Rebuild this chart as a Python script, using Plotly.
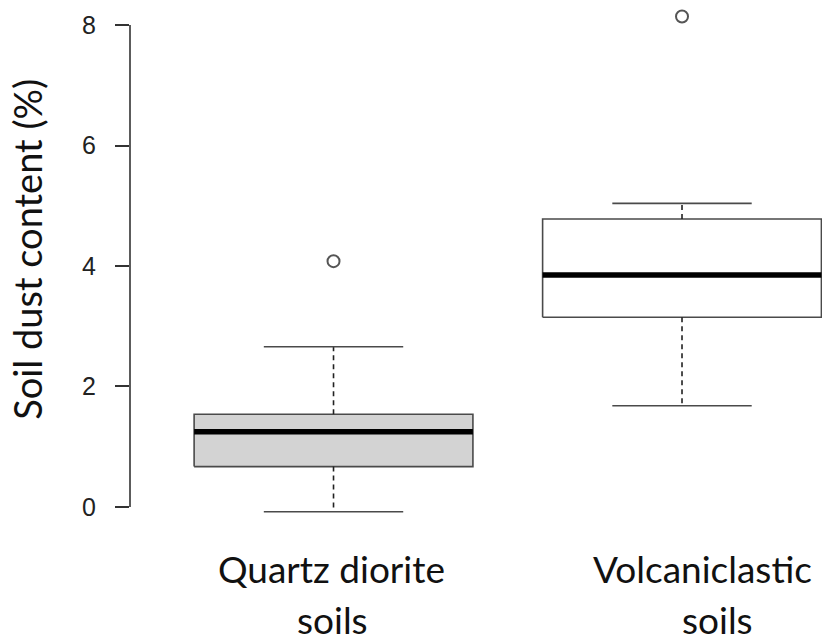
import plotly.graph_objects as go

# ---- data ----
categories = ["Quartz diorite soils", "Volcaniclastic soils"]
label_lines = [["Quartz diorite", "soils"], ["Volcaniclastic", "soils"]]
positions = [1, 2]
q1 = [0.67, 3.15]
median = [1.25, 3.85]
q3 = [1.54, 4.78]
whisker_low = [-0.08, 1.68]
whisker_high = [2.66, 5.04]
outliers = [[4.08], [8.14]]
fills = ["#d3d3d3", "#ffffff"]
y_ticks = [0, 2, 4, 6, 8]

BOX_HALF = 0.4
CAP_HALF = 0.2
EDGE = "#4a4a4a"

fig = go.Figure()

for i, p in enumerate(positions):
    # box
    fig.add_trace(go.Scatter(
        x=[p - BOX_HALF, p + BOX_HALF, p + BOX_HALF, p - BOX_HALF, p - BOX_HALF],
        y=[q1[i], q1[i], q3[i], q3[i], q1[i]],
        mode="lines", fill="toself", fillcolor=fills[i],
        line=dict(color=EDGE, width=1.6), hoverinfo="skip", showlegend=False))
    # median
    fig.add_trace(go.Scatter(
        x=[p - BOX_HALF, p + BOX_HALF], y=[median[i], median[i]],
        mode="lines", line=dict(color="#000000", width=5.5),
        hoverinfo="skip", showlegend=False))
    # whiskers (dashed)
    fig.add_trace(go.Scatter(
        x=[p, p, None, p, p],
        y=[q3[i], whisker_high[i], None, q1[i], whisker_low[i]],
        mode="lines", line=dict(color="#222222", width=1.6, dash="5px,4px"),
        hoverinfo="skip", showlegend=False))
    # caps
    fig.add_trace(go.Scatter(
        x=[p - CAP_HALF, p + CAP_HALF, None, p - CAP_HALF, p + CAP_HALF],
        y=[whisker_high[i], whisker_high[i], None, whisker_low[i], whisker_low[i]],
        mode="lines", line=dict(color=EDGE, width=1.6),
        hoverinfo="skip", showlegend=False))
    # outliers
    fig.add_trace(go.Scatter(
        x=[p] * len(outliers[i]), y=outliers[i], mode="markers",
        marker=dict(symbol="circle-open", size=12, color="#555555",
                    line=dict(width=2, color="#555555")),
        hoverinfo="skip", showlegend=False))

# category labels
label_font = dict(family="Lato, Open Sans, sans-serif", size=37, color="#111111")
line_y = [-0.052, -0.147]
line_shift = [[-2, -1], [20, 35]]
for i, p in enumerate(positions):
    for j, txt in enumerate(label_lines[i]):
        fig.add_annotation(x=p, y=line_y[j], xref="x", yref="paper",
                           text=txt, showarrow=False, font=label_font,
                           xanchor="center", yanchor="middle",
                           xshift=line_shift[i][j])

# y axis title
fig.add_annotation(x=-0.149, y=0.539, xref="paper", yref="paper",
                   text="Soil dust content (%)", textangle=-90, showarrow=False,
                   font=dict(family="Lato, Open Sans, sans-serif", size=38, color="#111111"),
                   xanchor="center", yanchor="middle")

# y axis line from first to last tick
fig.add_shape(type="line", xref="paper", yref="y", x0=0, x1=0,
              y0=y_ticks[0], y1=y_ticks[-1], line=dict(color="#333333", width=1.6))

fig.update_layout(
    width=822, height=644,
    margin=dict(l=130, r=0, t=0, b=104),
    plot_bgcolor="white", paper_bgcolor="white",
    xaxis=dict(range=[0.416, 2.4017], showgrid=False, zeroline=False,
               showticklabels=False, showline=False, ticks=""),
    yaxis=dict(range=[-0.548, 8.415], showgrid=False, zeroline=False,
               showline=False, tickvals=y_ticks, ticks="outside", ticklen=14,
               tickwidth=1.6, tickcolor="#333333",
               tickfont=dict(family="Liberation Sans, Arial, sans-serif", size=25, color="#222222"),
               ticklabelstandoff=14),
)

fig.write_html("out.html", config={"displayModeBar": False},
               post_script="document.body.style.margin='0';document.body.style.overflow='hidden';")
